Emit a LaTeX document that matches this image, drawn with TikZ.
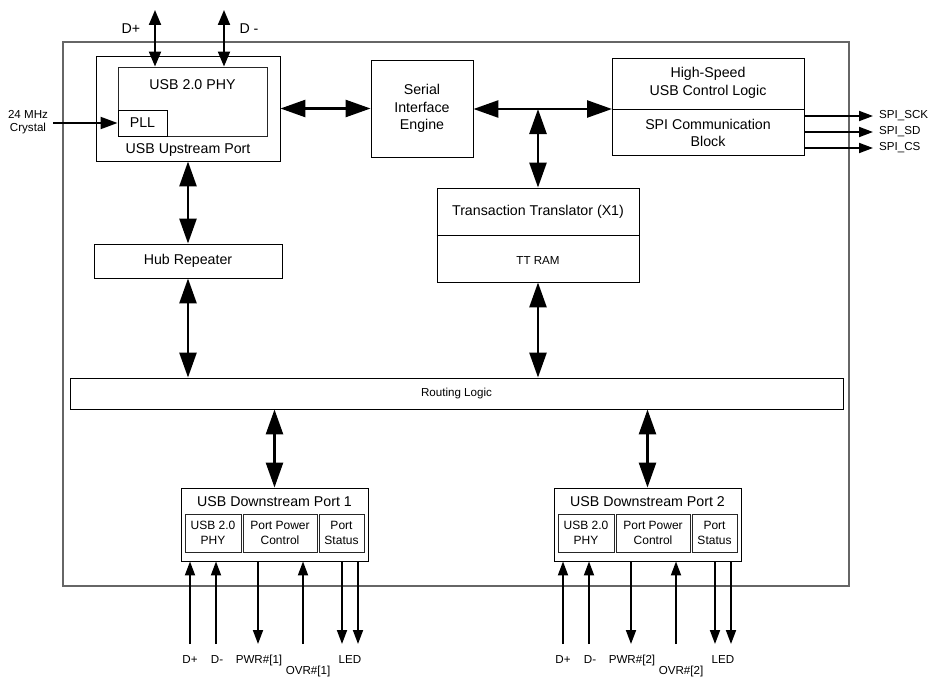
\documentclass[tikz,border=0pt]{standalone}
\usepackage{fontspec}
\setmainfont{Liberation Sans}
\usetikzlibrary{arrows.meta}
\definecolor{outergray}{HTML}{666666}
\begin{document}
\begin{tikzpicture}[x=1pt,y=-1pt,
  box/.style={draw=black, line width=0.9pt, inner sep=0pt, align=center},
  bigf/.style={font=\fontsize{14.2}{17.5}\selectfont, align=center, inner sep=0pt},
  subf/.style={font=\fontsize{12}{15}\selectfont, align=center, inner sep=0pt},
  smf/.style={font=\fontsize{11.6}{13}\selectfont, align=center, inner sep=0pt},
  bigarr/.style={line width=2.6pt, {Triangle[length=25pt,width=17pt]}-{Triangle[length=25pt,width=17pt]}},
  medarr/.style={line width=2pt, {Triangle[length=15pt,width=12pt]}-{Triangle[length=15pt,width=12pt]}},
  xarr/.style={line width=2pt, -{Triangle[length=17pt,width=12pt]}},
  smarr/.style={line width=1.8pt, -{Triangle[length=14pt,width=10pt]}},
]
\useasboundingbox (0,0) rectangle (932,677);

% outer chip
\node[box, draw=outergray, line width=1.3pt, minimum width=786pt, minimum height=544pt] (chip) at (456,314) {};

% upstream port
\node[box, minimum width=184pt, minimum height=105pt] (up) at (188,108.5) {};
\node[box, draw=black!85, minimum width=149pt, minimum height=69pt] (phy) at (192.5,101.5) {};
\node[bigf] (phyt) at (192.5,85) {USB 2.0 PHY};
\node[box, bigf, minimum width=49pt, minimum height=26pt] (pll) at (142.5,123) {PLL};
\node[bigf] (upt) at (188,150) {USB Upstream Port};

% D+ / D- upstream
\coordinate (dptop) at (155,10);
\coordinate (dmtop) at (224,10);
\draw[medarr] (dptop) -- (dptop |- phy.north);
\draw[medarr] (dmtop) -- (dmtop |- phy.north);
\node[bigf] (dpl) at (131,29) {D+};
\node[bigf] (dml) at (249,29) {D -};

% crystal
\node[smf] (xtal) at (28,122.5) {24 MHz\\Crystal};
\coordinate (xin) at (53,123);
\draw[xarr] (xin) -- (pll.west);

% SIE
\node[box, bigf, minimum width=102pt, minimum height=97pt] (sie) at (422,108.5) {Serial\\Interface\\Engine};
\draw[bigarr] (up.east) -- (sie.west);

% High speed control
\node[box, minimum width=192pt, minimum height=97pt] (hs) at (708,106.5) {};
\coordinate (hsdl) at (612,109);
\coordinate (hsdr) at (804,109);
\draw[line width=0.9pt] (hsdl) -- (hsdr);
\node[bigf] (hst) at (708,83) {High-Speed\\USB Control Logic};
\node[bigf] (spit) at (708,133) {SPI Communication\\Block};

% SPI outputs
\coordinate (sck) at (873,116);
\coordinate (sd) at (873,132);
\coordinate (cs) at (873,148);
\draw[smarr] (hs.east |- sck) -- (sck);
\draw[smarr] (hs.east |- sd) -- (sd);
\draw[smarr] (hs.east |- cs) -- (cs);
\node[smf, anchor=west] (sckl) at (879,116) {SPI\_SCK};
\node[smf, anchor=west] (sdl) at (879,132) {SPI\_SD};
\node[smf, anchor=west] (csl) at (879,148) {SPI\_CS};

% Transaction translator
\node[box, minimum width=202pt, minimum height=94pt] (tt) at (538,235) {};
\draw[line width=0.9pt] (tt.west) -- (tt.east);
\node[bigf] (ttt) at (538,212) {Transaction Translator (X1)};
\node[smf] (ttr) at (538,261) {TT RAM};

\draw[bigarr] (sie.east |- hsdl) -- (hsdl);
\coordinate (j) at (tt.north |- hsdl);
\draw[bigarr] (j) -- (tt.north);

% Hub repeater
\node[box, bigf, minimum width=188pt, minimum height=34pt] (hub) at (188,261) {Hub Repeater};
\draw[bigarr] (up.south) -- (hub.north);

% Routing logic
\node[box, smf, minimum width=773pt, minimum height=31pt] (rl) at (456.5,393.5) {Routing Logic};
\draw[bigarr] (hub.south) -- (hub.south |- rl.north);
\draw[bigarr] (tt.south) -- (tt.south |- rl.north);

% downstream ports
\foreach \n/\dx in {1/0,2/373}{
\begin{scope}[xshift=\dx pt]
  \node[box, minimum width=187pt, minimum height=73pt] (ds\n) at (274.5,524.5) {};
  \node[bigf] (dst\n) at (274.5,502) {USB Downstream Port \n};
  \node[box, subf, draw=black!85, minimum width=56pt, minimum height=38pt] (dphy\n) at (213,533) {USB 2.0\\PHY};
  \node[box, subf, draw=black!85, minimum width=74pt, minimum height=38pt] (ppc\n) at (280,533) {Port Power\\Control};
  \node[box, subf, draw=black!85, minimum width=45pt, minimum height=38pt] (pst\n) at (341.5,533) {Port\\Status};
  \coordinate (dpb\n) at (190,644);
  \coordinate (dmb\n) at (216,644);
  \coordinate (pwb\n) at (258,644);
  \coordinate (ovb\n) at (303,644);
  \coordinate (lab\n) at (342,644);
  \coordinate (lbb\n) at (358,644);
  \draw[smarr] (dpb\n) -- (dpb\n |- ds\n.south);
  \draw[smarr] (dmb\n) -- (dmb\n |- ds\n.south);
  \draw[smarr] (pwb\n |- ds\n.south) -- (pwb\n);
  \draw[smarr] (ovb\n) -- (ovb\n |- ds\n.south);
  \draw[smarr] (lab\n |- ds\n.south) -- (lab\n);
  \draw[smarr] (lbb\n |- ds\n.south) -- (lbb\n);
  \node[smf] (dpl\n) at (190,660) {D+};
  \node[smf] (dml\n) at (217,660) {D-};
  \node[smf] (pwl\n) at (259,660) {PWR\#[\n]};
  \node[smf] (ovl\n) at (308,671) {OVR\#[\n]};
  \node[smf] (ledl\n) at (350,660) {LED};
\end{scope}
}
\draw[bigarr] (ds1.north |- rl.south) -- (ds1.north);
\draw[bigarr] (ds2.north |- rl.south) -- (ds2.north);
\end{tikzpicture}
\end{document}
